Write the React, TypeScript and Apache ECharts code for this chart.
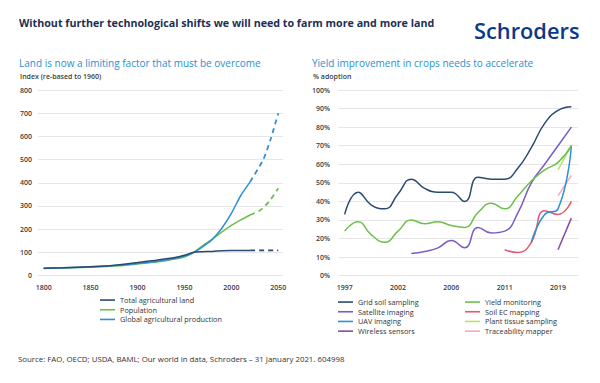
import React, { useEffect, useRef } from "react";
import * as echarts from "echarts";

// ---------- Left chart data ----------
const landSolid: [number, number][] = [
  [1800, 31], [1820, 33], [1850, 38], [1870, 42], [1900, 56], [1910, 61], [1920, 66],
  [1940, 78], [1950, 87], [1960, 100], [1980, 104], [1990, 107], [2000, 108], [2020, 108],
];
const landDash: [number, number][] = [[2020, 108], [2050, 108]];
const popSolid: [number, number][] = [
  [1800, 30], [1850, 36], [1880, 42], [1900, 50], [1920, 58], [1950, 80], [1960, 100], [1970, 130],
  [1980, 158], [1990, 188], [2000, 216], [2010, 240], [2020, 261],
];
const popDash: [number, number][] = [[2020, 261], [2031, 282], [2040, 318], [2050, 376]];
const prodSolid: [number, number][] = [
  [1800, 31], [1850, 37], [1880, 44], [1900, 52], [1920, 60], [1950, 83], [1960, 100], [1970, 126],
  [1980, 157], [1990, 205], [2000, 268], [2010, 345], [2020, 404],
];
const prodDash: [number, number][] = [[2020, 404], [2034, 500], [2042, 590], [2050, 700]];
const leftXLabels = [1800, 1850, 1900, 1950, 2000, 2050];

// ---------- Right chart data ----------
const years = [
  "1997", "1998", "1999", "2000", "2002", "2003", "2004", "2005", "2006",
  "2007", "2008", "2009", "2011", "2013", "2015", "2017", "2019", "2020",
];
const N = null;
const gridSoil = [33, 45, 38, 36, 44, 52, 47, 45, 45, 40, 53, 52, 52, 58, 69, 82, 89, 91];
const yieldMon = [24, 29, 22, 18, 24, 30, 28, 29, 27, 26, 34, 39, 36, 43, 51, 57, 61, 70];
const satellite = [N, N, N, N, N, 12, 13, 15, 19, 15, 26, 23, 24, 34, 50, 60, 70, 80];
const soilEC = [N, N, N, N, N, N, N, N, N, N, N, N, 14, 12.5, 18, 35, 33, 40];
const uav = [N, N, N, N, N, N, N, N, N, N, N, N, N, N, 18, 33, 36, 70];
const plantTissue = [N, N, N, N, N, N, N, N, N, N, N, N, N, N, N, N, 57, 70];
const wireless = [N, N, N, N, N, N, N, N, N, N, N, N, N, N, N, N, 14, 31];
const traceability = [N, N, N, N, N, N, N, N, N, N, N, N, N, N, N, N, 43, 54];

const FONT = "'Open Sans', 'Noto Sans', sans-serif";
const NAVY = "#2a4a72";
const GREEN = "#6cc04a";
const BLUE = "#2e8fd6";
const axisLabelStyle = { color: "#3c3c3c", fontSize: 7, fontFamily: FONT, fontWeight: 600 };
const splitLine = { show: true, lineStyle: { color: "#e6e6e6", width: 1 } };

export default function App() {
  const ref = useRef<HTMLDivElement>(null);
  useEffect(() => {
    if (!ref.current) return;
    const chart = echarts.init(ref.current, undefined, { renderer: "svg" });
    const rLine = (name: string, data: (number | null)[], color: string) => ({
      name, type: "line", xAxisIndex: 1, yAxisIndex: 1, data, smooth: true, showSymbol: false,
      color, lineStyle: { color, width: 1.5 }, connectNulls: false,
    });
    const lLine = (name: string, data: [number, number][], color: string, dashed = false) => ({
      name, type: "line", xAxisIndex: 0, yAxisIndex: 0, data, smooth: 0.2, showSymbol: false,
      color, lineStyle: { color, width: dashed ? 1.8 : 1.5, type: dashed ? [5, 4] : "solid" },
    });
    const legendText = (lh: number) => ({ fontSize: 7.3, fontFamily: FONT, color: "#333", lineHeight: lh, height: lh });
    chart.setOption({
      animation: false,
      backgroundColor: "#ffffff",
      graphic: [
        { type: "text", x: 19, y: 23, style: { text: "Without further technological shifts we will need to farm more and more land", font: `700 10.7px ${FONT}`, fill: "#1d2f55", verticalAlign: "middle" } },
        { type: "text", x: 474, y: 30, style: { text: "Schroders", font: `600 21.8px ${FONT}`, fill: "#0c3a84", verticalAlign: "middle" } },
        { type: "text", x: 19, y: 63, style: { text: "Land is now a limiting factor that must be overcome", font: `400 10px ${FONT}`, fill: "#2a8fd0", verticalAlign: "middle" } },
        { type: "text", x: 312, y: 63, style: { text: "Yield improvement in crops needs to accelerate", font: `400 10px ${FONT}`, fill: "#2a8fd0", verticalAlign: "middle" } },
        { type: "text", x: 20, y: 76, style: { text: "Index (re-based to 1960)", font: `600 7px ${FONT}`, fill: "#3c3c3c", verticalAlign: "middle" } },
        { type: "text", x: 313, y: 76, style: { text: "% adoption", font: `600 7px ${FONT}`, fill: "#3c3c3c", verticalAlign: "middle" } },
        { type: "text", x: 18, y: 359, style: { text: "Source: FAO, OECD; USDA, BAML; Our world in data, Schroders – 31 January 2021. 604998", font: `400 7.85px ${FONT}`, fill: "#333333", verticalAlign: "middle" } },
      ],
      grid: [
        { left: 38, right: 317, top: 90, bottom: 107.5 },
        { left: 338, right: 22, top: 90, bottom: 107.3 },
      ],
      xAxis: [
        {
          type: "value", gridIndex: 0, min: 1794, max: 2055,
          axisLabel: { ...axisLabelStyle, margin: 8, customValues: leftXLabels, formatter: (v: number) => String(v) },
          axisTick: { show: false }, axisLine: { show: false }, splitLine: { show: false },
        },
        {
          type: "category", gridIndex: 1, data: years, boundaryGap: true,
          axisLabel: { ...axisLabelStyle, margin: 8, interval: 3 },
          axisTick: { show: false }, axisLine: { show: false }, splitLine: { show: false },
        },
      ],
      yAxis: [
        {
          type: "value", gridIndex: 0, min: 0, max: 800, interval: 100,
          axisLabel: { ...axisLabelStyle, margin: 6 }, axisLine: { show: false }, axisTick: { show: false }, splitLine,
        },
        {
          type: "value", gridIndex: 1, min: 0, max: 100, interval: 10,
          axisLabel: { ...axisLabelStyle, margin: 8, formatter: "{value}%" }, axisLine: { show: false }, axisTick: { show: false }, splitLine,
        },
      ],
      legend: [
        {
          orient: "vertical", left: 100, top: 295.2, padding: 0, itemGap: 0, itemWidth: 15, itemHeight: 1.6, icon: "rect",
          textStyle: legendText(9.7),
          data: ["Total agricultural land", "Population", "Global agricultural production"],
        },
        {
          orient: "vertical", left: 338, top: 297.2, padding: 0, itemGap: 0, itemWidth: 15, itemHeight: 1.6, icon: "rect",
          textStyle: legendText(9.7),
          data: ["Grid soil sampling", "Satellite imaging", "UAV imaging", "Wireless sensors"],
        },
        {
          orient: "vertical", left: 465, top: 297.2, padding: 0, itemGap: 0, itemWidth: 15, itemHeight: 1.6, icon: "rect",
          textStyle: legendText(9.7),
          data: ["Yield monitoring", "Soil EC mapping", "Plant tissue sampling", "Traceability mapper"],
        },
      ],
      series: [
        lLine("Population", popSolid, GREEN),
        lLine("Population (forecast)", popDash, GREEN, true),
        lLine("Global agricultural production", prodSolid, BLUE),
        lLine("Global agricultural production (forecast)", prodDash, BLUE, true),
        lLine("Total agricultural land", landSolid, NAVY),
        lLine("Total agricultural land (forecast)", landDash, NAVY, true),
        rLine("Soil EC mapping", soilEC, "#e8576f"),
        rLine("Traceability mapper", traceability, "#f7a9b9"),
        rLine("Plant tissue sampling", plantTissue, "#b7e36a"),
        rLine("Wireless sensors", wireless, "#8a4a9e"),
        rLine("UAV imaging", uav, "#2e8fd6"),
        rLine("Satellite imaging", satellite, "#7b5cc6"),
        rLine("Yield monitoring", yieldMon, GREEN),
        rLine("Grid soil sampling", gridSoil, NAVY),
      ],
    });
    return () => chart.dispose();
  }, []);
  return <div ref={ref} style={{ width: 600, height: 383, position: "absolute", left: 0, top: 0 }} />;
}
